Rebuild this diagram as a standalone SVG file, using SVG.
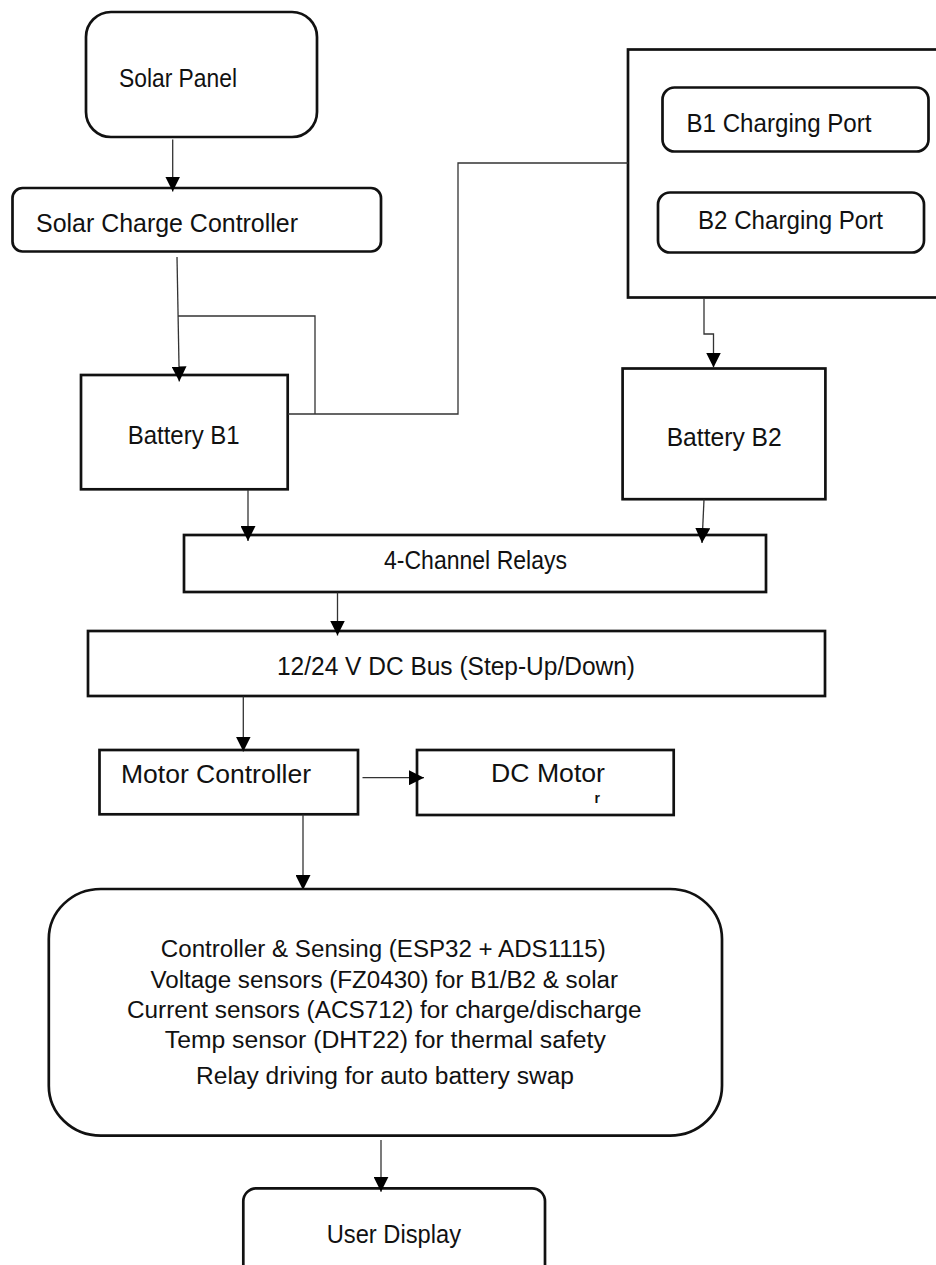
<svg xmlns="http://www.w3.org/2000/svg" width="936" height="1265" viewBox="0 0 936 1265">
<style>
.box{fill:#fff;stroke:#111;stroke-width:2.7}
.t{font-family:"Liberation Sans",Arial,sans-serif;font-size:26px;fill:#111}
.s{font-family:"Liberation Sans",Arial,sans-serif;font-size:23px;fill:#111}
.c{fill:none;stroke:#333;stroke-width:1.3}
</style>
<defs>
<marker id="ah" markerUnits="userSpaceOnUse" markerWidth="15" markerHeight="15" refX="15" refY="7.5" orient="auto">
<path d="M0,0 L15,7.5 L0,15 Z" fill="#000"/>
</marker>
</defs>
<rect width="936" height="1265" fill="#fff"/>
<g id="solar-panel">
<rect class="box" x="86" y="12" width="231" height="125" rx="25"/>
<text class="t" x="119" y="87" textLength="118" lengthAdjust="spacingAndGlyphs">Solar Panel</text>
</g>
<g id="solar-charge-controller">
<rect class="box" x="12.5" y="188" width="368.5" height="63.5" rx="10"/>
<text class="t" x="36" y="232" textLength="262" lengthAdjust="spacingAndGlyphs">Solar Charge Controller</text>
</g>
<g id="charging-ports">
<rect class="box" x="628" y="49.5" width="320" height="248"/>
</g>
<g id="b1-port">
<rect class="box" x="662.5" y="87.5" width="266" height="64" rx="12"/>
<text class="t" x="686.5" y="132" textLength="185" lengthAdjust="spacingAndGlyphs">B1 Charging Port</text>
</g>
<g id="b2-port">
<rect class="box" x="658" y="192.5" width="266" height="60" rx="12"/>
<text class="t" x="698" y="229" textLength="185" lengthAdjust="spacingAndGlyphs">B2 Charging Port</text>
</g>
<g id="battery-b1">
<rect class="box" x="81" y="375" width="206.7" height="114.3"/>
<text class="t" x="127.7" y="444" textLength="112" lengthAdjust="spacingAndGlyphs">Battery B1</text>
</g>
<g id="battery-b2">
<rect class="box" x="622.6" y="368.5" width="202.8" height="130.7"/>
<text class="t" x="666.7" y="446" textLength="115" lengthAdjust="spacingAndGlyphs">Battery B2</text>
</g>
<g id="relays">
<rect class="box" x="184" y="535" width="582" height="57"/>
<text class="t" x="384" y="569" textLength="183" lengthAdjust="spacingAndGlyphs">4-Channel Relays</text>
</g>
<g id="dc-bus">
<rect class="box" x="88" y="631" width="737" height="65"/>
<text class="t" x="277" y="675" textLength="358" lengthAdjust="spacingAndGlyphs">12/24 V DC Bus (Step-Up/Down)</text>
</g>
<g id="motor-controller">
<rect class="box" x="99.5" y="750" width="258.5" height="64.3"/>
<text class="t" x="121" y="782.5" textLength="190" lengthAdjust="spacingAndGlyphs">Motor Controller</text>
</g>
<g id="dc-motor">
<rect class="box" x="417" y="750" width="256.7" height="65"/>
<text class="t" x="491" y="782" textLength="114" lengthAdjust="spacingAndGlyphs">DC Motor</text>
<text class="t" x="594.5" y="803" style="font-size:14px;font-weight:bold">r</text>
</g>
<g id="controller-sensing">
<rect class="box" x="48.8" y="889" width="673.2" height="246.7" rx="52" ry="50"/>
<text class="s" x="160.8" y="956.7" textLength="445" lengthAdjust="spacingAndGlyphs">Controller &amp; Sensing (ESP32 + ADS1115)</text>
<text class="s" x="150.5" y="987.7" textLength="467.5" lengthAdjust="spacingAndGlyphs">Voltage sensors (FZ0430) for B1/B2 &amp; solar</text>
<text class="s" x="127" y="1017.7" textLength="514.6" lengthAdjust="spacingAndGlyphs">Current sensors (ACS712) for charge/discharge</text>
<text class="s" x="164.8" y="1047.7" textLength="441" lengthAdjust="spacingAndGlyphs">Temp sensor (DHT22) for thermal safety</text>
<text class="s" x="196" y="1084" textLength="378" lengthAdjust="spacingAndGlyphs">Relay driving for auto battery swap</text>
</g>
<g id="user-display">
<rect class="box" x="243.3" y="1188.3" width="301.7" height="100" rx="13"/>
<text class="t" x="326.7" y="1243" textLength="134.3" lengthAdjust="spacingAndGlyphs">User Display</text>
</g>
<g id="connectors">
<path class="c" d="M172.7,139.5 V191.5" marker-end="url(#ah)"/>
<path class="c" d="M177,257 L179.3,381.5" marker-end="url(#ah)"/>
<path class="c" d="M178,316 H315 V414"/>
<path class="c" d="M288,414 H458 V163 H628"/>
<path class="c" d="M704,299 V334 H713.5 V367.5" marker-end="url(#ah)"/>
<path class="c" d="M248,490 V541" marker-end="url(#ah)"/>
<path class="c" d="M704,499.5 L702,543" marker-end="url(#ah)"/>
<path class="c" d="M337.5,592.5 V635.5" marker-end="url(#ah)"/>
<path class="c" d="M243.3,696.5 V751.5" marker-end="url(#ah)"/>
<path class="c" d="M362.5,777.7 H424" marker-end="url(#ah)"/>
<path class="c" d="M303,814.5 V890" marker-end="url(#ah)"/>
<path class="c" d="M381,1140 V1191.7" marker-end="url(#ah)"/>
</g>
</svg>
